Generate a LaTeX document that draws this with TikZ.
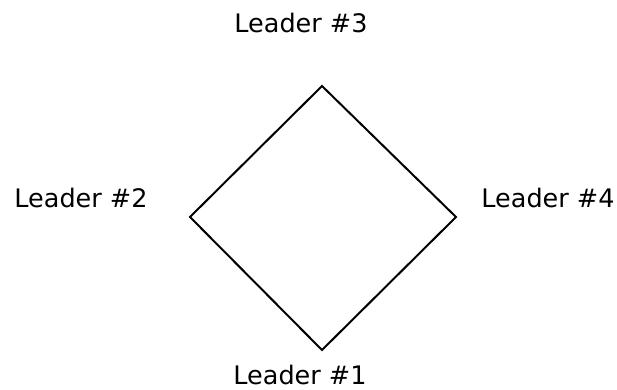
\documentclass[tikz,border=0pt]{standalone}
\usepackage{fontspec}
\setmainfont{DejaVu Sans}
\begin{document}
\begin{tikzpicture}[x=1pt,y=-1pt,
  lbl/.style={anchor=base,inner sep=0pt,font=\fontsize{25.5}{30}\selectfont},
  edge/.style={line width=2pt}]
\useasboundingbox (0,0) rectangle (617,389);
\coordinate (t) at (322,86);
\coordinate (l) at (190,217);
\coordinate (b) at (322,350);
\coordinate (r) at (456,217);
\draw[edge,line join=miter] (t) -- (r) -- (b) -- (l) -- cycle;
\node[lbl] (n3) at (301,32) {Leader \#3};
\node[lbl] (n2) at (81,207) {Leader \#2};
\node[lbl] (n4) at (548,207) {Leader \#4};
\node[lbl] (n1) at (300,384) {Leader \#1};
\end{tikzpicture}
\end{document}
